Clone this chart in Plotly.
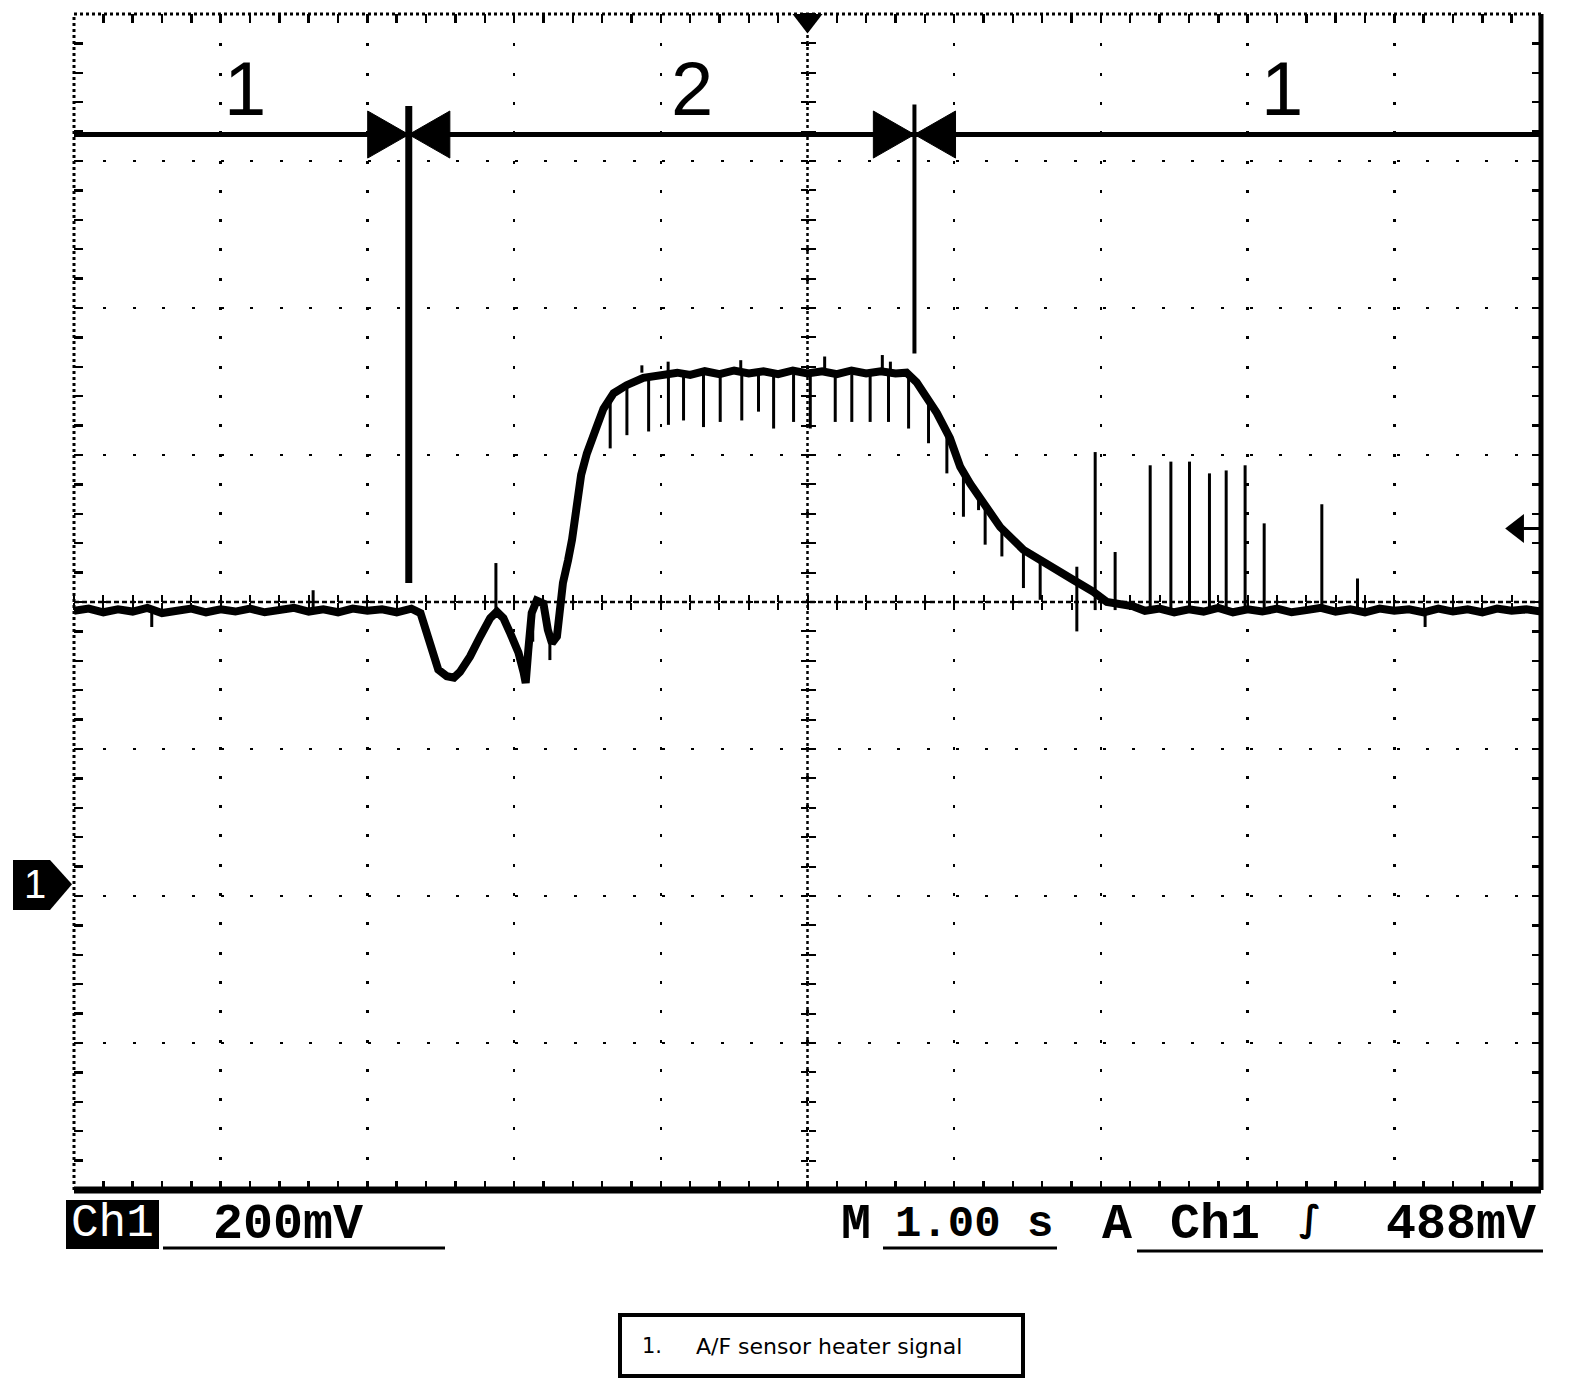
import plotly.graph_objects as go

# ---- waveform (time in s relative to trigger, volts) ----
trace_t = [-5.0, -4.9, -4.8, -4.7, -4.6, -4.5, -4.4, -4.3, -4.2, -4.1, -4.0, -3.9, -3.8,
           -3.7, -3.6, -3.5, -3.4, -3.3, -3.2, -3.1, -3.0, -2.9, -2.8, -2.7,
           -2.638, -2.593, -2.562, -2.517, -2.459, -2.41, -2.369, -2.300, -2.231, -2.163,
           -2.118, -2.073, -2.025, -1.970, -1.935, -1.921, -1.903, -1.880, -1.846, -1.800,
           -1.770, -1.742, -1.708, -1.687, -1.667, -1.632, -1.605, -1.543, -1.504, -1.436,
           -1.391, -1.322, -1.233, -1.119, -1.0, -0.888, -0.8, -0.7, -0.6, -0.5, -0.4,
           -0.3, -0.2, -0.1, 0.0, 0.1, 0.2, 0.3, 0.4, 0.5, 0.6, 0.675,
           0.744, 0.813, 0.882, 0.971, 1.041, 1.109, 1.200, 1.313, 1.472, 1.654, 1.813,
           1.949, 2.041, 2.222, 2.3, 2.4, 2.5, 2.6, 2.7, 2.8, 2.9, 3.0, 3.1, 3.2, 3.3,
           3.4, 3.5, 3.6, 3.7, 3.8, 3.9, 4.0, 4.1, 4.2, 4.3, 4.4, 4.5, 4.6, 4.7, 4.8,
           4.9, 5.0]
trace_v = [0.388, 0.391, 0.386, 0.390, 0.387, 0.392, 0.385, 0.389, 0.391, 0.386, 0.390,
           0.387, 0.391, 0.386, 0.389, 0.392, 0.387, 0.390, 0.386, 0.391, 0.388, 0.390,
           0.386, 0.391,
           0.385, 0.358, 0.335, 0.308, 0.299, 0.297, 0.305, 0.326, 0.353, 0.378,
           0.387, 0.378, 0.357, 0.331, 0.304, 0.290, 0.335, 0.385, 0.402, 0.398,
           0.362, 0.344, 0.353, 0.394, 0.426, 0.457, 0.485, 0.573, 0.602, 0.639,
           0.663, 0.684, 0.695, 0.705, 0.709, 0.712, 0.709, 0.714, 0.710, 0.715, 0.711,
           0.714, 0.710, 0.715, 0.711, 0.714, 0.710, 0.715, 0.711, 0.714, 0.711, 0.712,
           0.699, 0.679, 0.657, 0.623, 0.584, 0.561, 0.534, 0.502, 0.471, 0.448, 0.430,
           0.414, 0.400, 0.394, 0.388, 0.391, 0.386, 0.390, 0.387, 0.392, 0.386, 0.390,
           0.387, 0.391, 0.386, 0.389, 0.392, 0.387, 0.390, 0.386, 0.391, 0.388, 0.390,
           0.386, 0.391, 0.387, 0.390, 0.386, 0.391, 0.388, 0.390, 0.387]

# glitches: time, low end, high end
spike_t = [-4.47, -3.37, -2.124, -1.873, -1.756, -1.345, -1.231,
           -1.083, -0.948, -0.845, -0.709, -0.595, -0.448, -0.334, -0.231, -0.095,
           0.019, 0.189, 0.302, 0.427, 0.552, 0.689,
           -1.129, -0.950, -0.455, 0.117, 0.510, 0.565,
           0.825, 0.950, 1.063, 1.166, 1.211, 1.325, 1.472, 1.586, 1.836,
           1.961, 2.097, 2.336, 2.477, 2.604, 2.740, 2.854, 2.983, 3.113, 3.506, 3.749,
           4.21]
spike_lo = [0.366, 0.388, 0.387, 0.346, 0.321, 0.609, 0.627,
            0.632, 0.641, 0.647, 0.638, 0.645, 0.647, 0.659, 0.636, 0.645,
            0.636, 0.645, 0.645, 0.645, 0.645, 0.636,
            0.712, 0.712, 0.712, 0.712, 0.712, 0.712,
            0.616, 0.575, 0.516, 0.525, 0.478, 0.462, 0.419, 0.403, 0.360,
            0.389, 0.389, 0.389, 0.389, 0.389, 0.389, 0.389, 0.389, 0.389, 0.389, 0.389,
            0.366]
spike_hi = [0.388, 0.416, 0.453, 0.385, 0.360, 0.675, 0.695,
            0.710, 0.710, 0.710, 0.710, 0.710, 0.710, 0.710, 0.710, 0.710,
            0.710, 0.710, 0.710, 0.710, 0.710, 0.710,
            0.722, 0.727, 0.729, 0.734, 0.736, 0.727,
            0.676, 0.630, 0.580, 0.550, 0.532, 0.500, 0.470, 0.455, 0.448,
            0.604, 0.468, 0.586, 0.591, 0.591, 0.575, 0.579, 0.586, 0.507, 0.533, 0.432,
            0.389]

# cursors and phase markers
cursor_t = [-2.718, 0.729]
cursor_top = [1.075, 1.077]
cursor_bottom = [0.426, 0.738]
meas_v = 1.036
phase_t = [-3.834, -0.787, 3.235]
phase_text = ["1", "2", "1"]
phase_v = 1.088
trig_t = 0.0
trig_level = 0.5

X0, X1 = -5.0, 5.0
Y0, Y1 = -0.4, 1.2
W, H = 1584, 1388
ML, MR, MT, MB = 74, 43, 14, 198


def pxx(x):
    return (x - ML) / (W - ML - MR)


def pxy(y):
    return (H - MB - y) / (H - MT - MB)


fig = go.Figure()

fig.add_trace(go.Scatter(x=trace_t, y=trace_v, mode="lines",
                         line=dict(color="black", width=8), hoverinfo="skip"))

sx, sy = [], []
for t, lo, hi in zip(spike_t, spike_lo, spike_hi):
    sx += [t, t, None]
    sy += [lo, hi, None]
fig.add_trace(go.Scatter(x=sx, y=sy, mode="lines", line=dict(color="black", width=3),
                         hoverinfo="skip"))

# measurement line with cursors
fig.add_trace(go.Scatter(x=[X0, X1], y=[meas_v, meas_v], mode="lines",
                         line=dict(color="black", width=5), hoverinfo="skip"))
for i, w in enumerate([7, 4]):
    fig.add_trace(go.Scatter(x=[cursor_t[i], cursor_t[i]], y=[cursor_bottom[i], cursor_top[i]],
                             mode="lines", line=dict(color="black", width=w), hoverinfo="skip"))
aw, ah = 0.28, 0.032
ax_, ay_ = [], []
for c in cursor_t:
    ax_ += [c - aw, c, c - aw, c - aw, None, c + aw, c, c + aw, c + aw, None]
    ay_ += [meas_v + ah, meas_v, meas_v - ah, meas_v + ah, None,
            meas_v + ah, meas_v, meas_v - ah, meas_v + ah, None]
fig.add_trace(go.Scatter(x=ax_, y=ay_, mode="lines", fill="toself", fillcolor="black",
                         line=dict(color="black", width=1), hoverinfo="skip"))

fig.add_trace(go.Scatter(x=phase_t, y=[phase_v] * 3, mode="text", text=phase_text,
                         textfont=dict(family="Liberation Sans", size=76, color="black"),
                         hoverinfo="skip"))

# trigger position (top) and trigger level (right)
fig.add_trace(go.Scatter(x=[trig_t], y=[Y1 - 0.009], mode="markers", cliponaxis=False,
                         marker=dict(symbol="triangle-down", size=26, color="black"),
                         hoverinfo="skip"))
fig.add_trace(go.Scatter(x=[X1 - 0.159], y=[trig_level], mode="markers", cliponaxis=False,
                         marker=dict(symbol="triangle-left", size=25, color="black"),
                         hoverinfo="skip"))
fig.add_trace(go.Scatter(x=[X1 - 0.12, X1], y=[trig_level, trig_level], mode="lines",
                         line=dict(color="black", width=3), hoverinfo="skip"))

# dummy traces so the centre tick axes are drawn
for xa, ya in [("x2", "y"), ("x3", "y"), ("x", "y2"), ("x", "y3")]:
    fig.add_trace(go.Scatter(x=[None], y=[None], xaxis=xa, yaxis=ya, hoverinfo="skip"))

grid_x = dict(range=[X0, X1], dtick=1, tick0=0, showgrid=True, gridcolor="black",
              gridwidth=2.5, griddash="3px,26.3px", zeroline=False, showline=False,
              showticklabels=False, ticks="inside", ticklen=9, tickwidth=2.5,
              tickcolor="black", mirror="ticks", fixedrange=True,
              minor=dict(dtick=0.2, tick0=0, ticks="inside", ticklen=9, tickwidth=2.5,
                         tickcolor="black", showgrid=False))
grid_y = dict(grid_x, range=[Y0, Y1], dtick=0.2, tick0=0, griddash="3px,26.4px",
              minor=dict(dtick=0.04, tick0=0, ticks="inside", ticklen=9, tickwidth=2.5,
                         tickcolor="black", showgrid=False))


def centre_axis(rng, dt, side, over):
    return dict(range=rng, overlaying=over, anchor="free", position=0.5, side=side,
                showgrid=False, zeroline=False, showline=False, showticklabels=False,
                ticks="outside", ticklen=7, tickwidth=2, tickcolor="black", dtick=dt * 5,
                tick0=0, fixedrange=True,
                minor=dict(dtick=dt, tick0=0, ticks="outside", ticklen=7, tickwidth=2,
                           tickcolor="black"))


shapes = [
    # centre crosshair
    dict(type="line", xref="x", yref="paper", x0=0, x1=0, y0=0, y1=1, layer="between",
         line=dict(color="black", width=2.5, dash="3px,3px")),
    dict(type="line", xref="paper", yref="y", x0=0, x1=1, y0=0.4, y1=0.4, layer="between",
         line=dict(color="black", width=2.5, dash="5px,3px")),
    # borders
    dict(type="line", xref="paper", yref="paper", x0=0, x1=1, y0=1, y1=1,
         line=dict(color="black", width=3, dash="3px,3px")),
    dict(type="line", xref="paper", yref="paper", x0=0, x1=0, y0=0, y1=1,
         line=dict(color="black", width=3, dash="3px,3px")),
    dict(type="line", xref="paper", yref="paper", x0=1, x1=1, y0=0, y1=1,
         line=dict(color="black", width=5)),
    dict(type="line", xref="paper", yref="paper", x0=0, x1=1, y0=0, y1=0,
         line=dict(color="black", width=7)),
    # ground marker
    dict(type="path", xref="paper", yref="y", fillcolor="black", line=dict(width=0),
         path="M {a},0.049 L {b},0.049 L {c},0.016 L {b},-0.019 L {a},-0.019 Z".format(
             a=pxx(13), b=pxx(50), c=pxx(72))),
    # readout block
    dict(type="rect", xref="paper", yref="paper", x0=pxx(66), x1=pxx(159),
         y0=pxy(1200), y1=pxy(1249), fillcolor="black", line=dict(width=0)),
    dict(type="line", xref="paper", yref="paper", x0=pxx(163), x1=pxx(445),
         y0=pxy(1248), y1=pxy(1248), line=dict(color="black", width=3)),
    dict(type="line", xref="paper", yref="paper", x0=pxx(883), x1=pxx(1057),
         y0=pxy(1248), y1=pxy(1248), line=dict(color="black", width=3)),
    dict(type="line", xref="paper", yref="paper", x0=pxx(1137), x1=pxx(1543),
         y0=pxy(1251), y1=pxy(1251), line=dict(color="black", width=3)),
    # caption box
    dict(type="rect", xref="paper", yref="paper", x0=pxx(620), x1=pxx(1023),
         y0=pxy(1315), y1=pxy(1376), line=dict(color="black", width=4)),
]

mono = "Liberation Mono"
ann = [
    dict(text="1", x=pxx(35), y=0.016, yref="y", font=dict(family="Liberation Sans",
         size=40, color="white")),
    dict(text="Ch1", x=pxx(112), y=pxy(1224), font=dict(family=mono, size=46, color="white")),
    dict(text="<b>200mV</b>", x=pxx(288), y=pxy(1224), font=dict(family=mono, size=50)),
    dict(text="<b>M</b>", x=pxx(856), y=pxy(1224), font=dict(family=mono, size=50)),
    dict(text="<b>1.00 s</b>", x=pxx(974), y=pxy(1224), font=dict(family=mono, size=44)),
    dict(text="<b>A</b>", x=pxx(1117), y=pxy(1224), font=dict(family=mono, size=50)),
    dict(text="<b>Ch1</b>", x=pxx(1215), y=pxy(1224), font=dict(family=mono, size=50)),
    dict(text="<b>∫</b>", x=pxx(1310), y=pxy(1219), font=dict(family="DejaVu Sans", size=36)),
    dict(text="<b>488mV</b>", x=pxx(1461), y=pxy(1224), font=dict(family=mono, size=50)),
    dict(text="1.", x=pxx(640), y=pxy(1346), xanchor="left",
         font=dict(family="DejaVu Sans", size=21)),
    dict(text="A/F sensor heater signal", x=pxx(694), y=pxy(1346), xanchor="left",
         font=dict(family="DejaVu Sans", size=22)),
]
for a in ann:
    a.setdefault("xref", "paper")
    a.setdefault("yref", "paper")
    a.setdefault("xanchor", "center")
    a["yanchor"] = "middle"
    a["showarrow"] = False
    a["font"].setdefault("color", "black")

fig.update_layout(
    width=W, height=H, margin=dict(l=ML, r=MR, t=MT, b=MB),
    paper_bgcolor="white", plot_bgcolor="white", showlegend=False,
    xaxis=grid_x, yaxis=grid_y,
    xaxis2=centre_axis([X0, X1], 0.2, "bottom", "x"),
    xaxis3=centre_axis([X0, X1], 0.2, "top", "x"),
    yaxis2=centre_axis([Y0, Y1], 0.04, "left", "y"),
    yaxis3=centre_axis([Y0, Y1], 0.04, "right", "y"),
    shapes=shapes, annotations=ann,
)

fig.write_html("out.html", config=dict(displayModeBar=False, staticPlot=True),
               post_script="document.body.style.margin='0';")
